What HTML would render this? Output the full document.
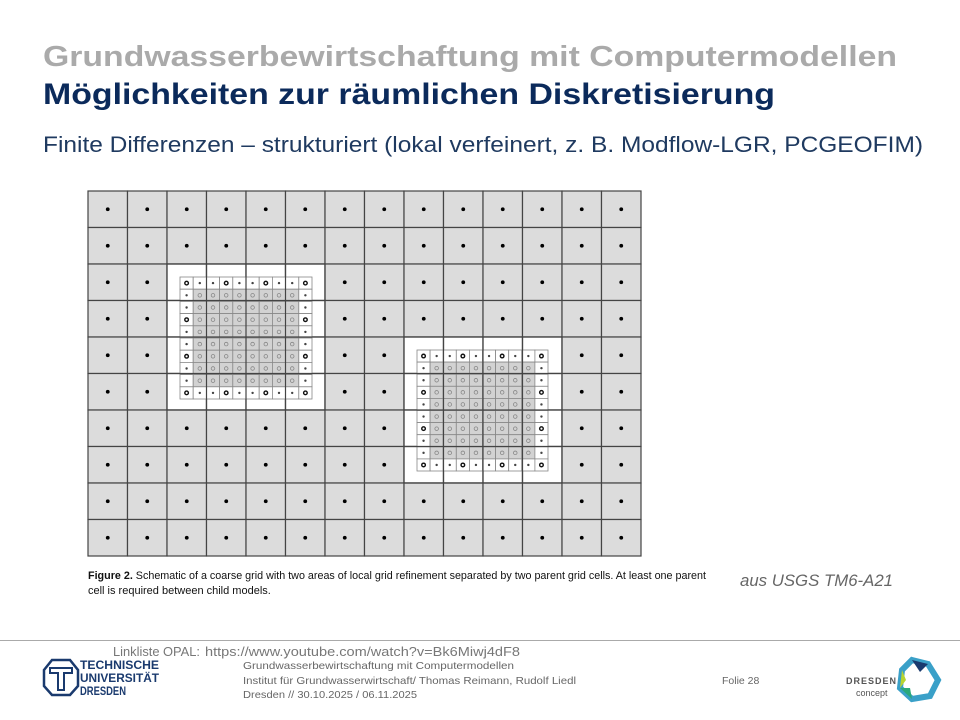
<!DOCTYPE html>
<html><head><meta charset="utf-8"><style>
html,body{margin:0;padding:0;background:#fff;}
svg{display:block;font-family:"Liberation Sans",sans-serif;}
</style></head><body>
<svg id="s" width="960" height="720" viewBox="0 0 960 720">
<text x="43" y="66" font-size="29" font-weight="bold" fill="#aaaaaa" textLength="854" lengthAdjust="spacingAndGlyphs">Grundwasserbewirtschaftung mit Computermodellen</text>
<text x="43" y="104" font-size="30" font-weight="bold" fill="#0b2a5b" textLength="732" lengthAdjust="spacingAndGlyphs">Möglichkeiten zur räumlichen Diskretisierung</text>
<text x="43" y="152" font-size="22" fill="#1f3a60" textLength="880" lengthAdjust="spacingAndGlyphs">Finite Differenzen – strukturiert (lokal verfeinert, z. B. Modflow-LGR, PCGEOFIM)</text>
<g id="grid"></g>
<text x="88" y="579" font-size="11" fill="#111" textLength="618" lengthAdjust="spacingAndGlyphs"><tspan font-weight="bold">Figure 2.</tspan>  Schematic of a coarse grid with two areas of local grid refinement separated by two parent grid cells. At least one parent</text>
<text x="88" y="594" font-size="11" fill="#111">cell is required between child models.</text>
<text x="740" y="586" font-size="17" font-style="italic" fill="#666" textLength="153" lengthAdjust="spacingAndGlyphs">aus USGS TM6-A21</text>
<line x1="0" y1="640.5" x2="960" y2="640.5" stroke="#aaa" stroke-width="1"/>
<text x="113" y="656" font-size="13" fill="#777" textLength="87" lengthAdjust="spacingAndGlyphs">Linkliste  OPAL:</text>
<text x="205" y="656" font-size="13" fill="#777" textLength="315" lengthAdjust="spacingAndGlyphs">https://www.youtube.com/watch?v=Bk6Miwj4dF8</text>
<g>
<path d="M44 670 L52 660 L70 660 L78 670 L78 686 L70 695 L52 695 L44 686 Z" fill="none" stroke="#1a3a6e" stroke-width="2.5"/>
<path d="M50 668 L72 668 L72 673 L64 673 L64 690 L58 690 L58 673 L50 673 Z" fill="none" stroke="#1a3a6e" stroke-width="2"/>
<text x="80" y="669" font-size="11.5" font-weight="bold" fill="#1a3a6e" textLength="79" lengthAdjust="spacingAndGlyphs">TECHNISCHE</text>
<text x="80" y="682" font-size="11.5" font-weight="bold" fill="#1a3a6e" textLength="79" lengthAdjust="spacingAndGlyphs">UNIVERSITÄT</text>
<text x="80" y="695" font-size="11.5" font-weight="bold" fill="#1a3a6e" textLength="46" lengthAdjust="spacingAndGlyphs">DRESDEN</text>
</g>
<text x="243" y="669" font-size="10.5" fill="#666" textLength="271" lengthAdjust="spacingAndGlyphs">Grundwasserbewirtschaftung mit Computermodellen</text>
<text x="243" y="684" font-size="10.5" fill="#666" textLength="333" lengthAdjust="spacingAndGlyphs">Institut für Grundwasserwirtschaft/ Thomas Reimann, Rudolf Liedl</text>
<text x="243" y="698" font-size="10.5" fill="#666" textLength="174" lengthAdjust="spacingAndGlyphs">Dresden // 30.10.2025 / 06.11.2025</text>
<text x="722" y="684" font-size="10.5" fill="#666">Folie 28</text>
<g>
<text x="846" y="684" font-size="9" font-weight="bold" fill="#555" letter-spacing="1">DRESDEN</text>
<text x="856" y="696" font-size="9" fill="#555">concept</text>
<polygon points="912,660 928,664 938,680 930,696 912,699 900,688 902,670" fill="none" stroke="#3aa0c8" stroke-width="6"/>
<polygon points="912,660 928,664 920,672" fill="#1a3a6e"/>
<polygon points="900,688 912,699 910,688" fill="#2aa87a"/>
<polygon points="902,670 900,688 906,680" fill="#b8d430"/>
</g>
</svg>
<script>
const colEdges=[88,127.5,167,206.5,246,285.5,325,364.5,404,443.5,483,522.5,562,601.5,641];
const rowEdges=[191,227.5,264,300.5,337,373.5,410,446.5,483,519.5,556];
const refineA={c0:2,c1:6,r0:2,r1:6,cx0:180,cx1:312,cy0:277,cy1:399};
const refineB={c0:8,c1:12,r0:4,r1:8,cx0:417,cx1:548,cy0:350,cy1:471};
const NS="http://www.w3.org/2000/svg";
const g=document.getElementById('grid');
function mk(t,a){const e=document.createElementNS(NS,t);for(const k in a)e.setAttribute(k,a[k]);g.appendChild(e);return e;}
function inRef(c,r,R){return c>=R.c0&&c<R.c1&&r>=R.r0&&r<R.r1;}
for(let r=0;r<10;r++)for(let c=0;c<14;c++){
  const w=inRef(c,r,refineA)||inRef(c,r,refineB);
  const e=mk('rect',{x:colEdges[c],y:rowEdges[r],width:colEdges[c+1]-colEdges[c],height:rowEdges[r+1]-rowEdges[r],fill:w?'#fff':'#dcdcdc',stroke:'#444','stroke-width':1.2});
  
  
}
function refine(R){
  const n=10,cw=(R.cx1-R.cx0)/n,ch=(R.cy1-R.cy0)/n;
  for(let i=0;i<n;i++)for(let j=0;j<n;j++){
    const edge=i==0||j==0||i==n-1||j==n-1;
    const e=mk('rect',{x:R.cx0+j*cw,y:R.cy0+i*ch,width:cw,height:ch,fill:edge?'#fff':'#d2d2d2',stroke:'#888','stroke-width':0.8});
    
    
  }
  for(let c=R.c0;c<=R.c1;c++){const l=mk('line',{x1:colEdges[c],x2:colEdges[c],y1:rowEdges[R.r0],y2:rowEdges[R.r1],stroke:'#444','stroke-width':1.2});
    }
  for(let r=R.r0;r<=R.r1;r++){const l=mk('line',{x1:colEdges[R.c0],x2:colEdges[R.c1],y1:rowEdges[r],y2:rowEdges[r],stroke:'#444','stroke-width':1.2});
    }
  for(let i=0;i<n;i++)for(let j=0;j<n;j++){
    const edge=i==0||j==0||i==n-1||j==n-1;
    const cx=R.cx0+(j+.5)*cw,cy=R.cy0+(i+.5)*ch;
    let e;
    if(edge&&i%3==0&&j%3==0) e=mk('circle',{cx,cy,r:1.8,fill:'none',stroke:'#111','stroke-width':1.4});
    else if(edge) e=mk('circle',{cx,cy,r:1.2,fill:'#444'});
    else e=mk('circle',{cx,cy,r:1.8,fill:'none',stroke:'#888','stroke-width':0.8});
    
    
  }
}
refine(refineA);refine(refineB);
for(let r=0;r<10;r++)for(let c=0;c<14;c++){
  if(inRef(c,r,refineA)||inRef(c,r,refineB))continue;
  const e=mk('circle',{cx:(colEdges[c]+colEdges[c+1])/2,cy:(rowEdges[r]+rowEdges[r+1])/2,r:1.9,fill:'#000'});
  
  
}
</script>
</body></html>
